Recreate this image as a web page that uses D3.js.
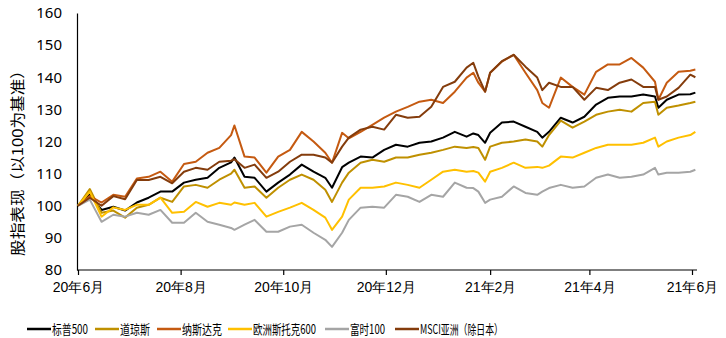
<!DOCTYPE html>
<html><head><meta charset="utf-8">
<script src="https://cdn.jsdelivr.net/npm/d3@7"></script>
<style>body{margin:0;background:#fff;}svg{display:block;font-family:"Noto Sans CJK SC","Noto Sans",sans-serif;}</style>
</head><body><svg id="c" width="726" height="338"></svg>
<script>
const dates = ["2020-06-01","2020-06-08","2020-06-15","2020-06-22","2020-06-29","2020-07-06","2020-07-13","2020-07-20","2020-07-27","2020-08-03","2020-08-10","2020-08-17","2020-08-24","2020-08-31","2020-09-02","2020-09-08","2020-09-14","2020-09-21","2020-09-28","2020-10-05","2020-10-12","2020-10-19","2020-10-26","2020-10-30","2020-11-05","2020-11-09","2020-11-16","2020-11-23","2020-11-30","2020-12-07","2020-12-14","2020-12-21","2020-12-28","2021-01-04","2021-01-11","2021-01-18","2021-01-22","2021-01-25","2021-01-29","2021-02-01","2021-02-08","2021-02-15","2021-02-22","2021-03-01","2021-03-04","2021-03-08","2021-03-15","2021-03-22","2021-03-29","2021-04-05","2021-04-12","2021-04-19","2021-04-26","2021-05-03","2021-05-10","2021-05-12","2021-05-17","2021-05-24","2021-05-31","2021-06-03"];

const seriesNames = ["标普500","道琼斯","纳斯达克","欧洲斯托克600","富时100","MSCI亚洲（除日本）"];

const sp500   = [100,103.5,98.7,99.7,98.5,101,102.5,104.4,104.4,107.2,108.1,108.7,111.8,113.5,115,109,108.7,104.4,107.2,109.7,112.8,110.6,108.7,105.6,112,113.4,115.3,115,117.4,119,118.4,119.6,120,121.2,123,121.5,122.5,122,119.6,122.7,125.9,126.2,124.6,123,121.2,123,127.4,125.9,127.7,131.5,133.6,134,134,134.6,134,130.5,133,134.6,134.7,135.2];
const dow     = [100,105.2,97.8,98.5,96.3,99.4,100.3,102.5,101.2,106,106.5,105.6,108.1,110,111.2,105.6,106,102.5,105.6,108.1,109.7,108.1,105,101.2,107.2,110.3,113.4,114.3,113.7,115,115,115.9,116.5,117.4,118.4,118,118.3,118,114.3,118.4,119.6,120,120.6,120,118.4,122,126.5,124.3,126.2,128.3,129.3,129.9,129.3,132,132.4,128.3,130.5,131.2,132,132.4];
const nasdaq  = [100,103,101,103.4,102.8,108.5,109,110.6,107.5,113,113.7,116.5,118,122,125,115.3,115,110.3,115.3,117.4,123,120,116.5,113.4,122.7,121,123,125.2,127.4,129.3,130.8,132.4,133,132,135.5,139.9,141.4,138.3,135.5,141.4,144.9,147,141.4,136,132,130.5,139.9,137,134.6,141.7,144,144,146,143,138.6,133,138.3,141.7,142,142.4];
const stoxx   = [100,104.4,96.6,99.5,98.7,100.3,100.3,102.5,97.8,98.1,101.2,99.7,100.9,100.3,101,100.3,100.9,96.6,98.1,99.4,100.9,98.7,96.3,92.5,96.6,101.9,105.6,105.6,106,107.2,106.5,105.6,108.1,110.6,111.2,110.6,110.8,110.3,107.5,110.6,111.8,113.4,111.8,112.1,111.8,112.5,115.3,115,116.5,118,119,119,119,119.6,121.2,118.4,120,121.2,122,123];
const ftse    = [100,101.9,95,97.2,96.6,97.8,97.2,98.7,94.7,94.7,97.8,95,94.1,93.1,92.5,94.1,95.6,91.9,91.9,93.5,94.1,91.6,89.4,87.2,91.6,95.6,99.4,99.7,99.4,103.4,102.8,101.2,103.4,102.8,107.2,105.6,105.5,104.4,100.9,101.9,102.8,106,104,103.4,104.4,105.5,106.5,105.6,106,108.7,109.7,108.7,109,109.7,111.8,109.7,110.3,110.3,110.6,111.2];
const msciAsia= [100,102.5,100,103,102,108,108,109,107,110.6,111.8,111.2,113.7,114,114.5,111.8,112.8,108.7,110.6,113.7,115.9,115.9,115,113.4,118.4,121.2,123.7,124.6,123.7,128.3,127.4,127.7,130.8,137,138.6,143,144.5,140.2,135.5,141.4,145,147,143.3,139.9,136,138.3,137,137,133,136.7,136,138.3,139.3,137,137,133,134,136.7,140.8,140];

const colors = ["#000000","#BF9000","#C55A11","#FFC000","#A5A5A5","#843C0C"];
const yTicks = [80,90,100,110,120,130,140,150,160];
const xTicks = ["2020-06-01","2020-08-01","2020-10-01","2020-12-01","2021-02-01","2021-04-01","2021-06-01"];
const xTickLabels = ["20年6月","20年8月","20年10月","20年12月","21年2月","21年4月","21年6月"];
const yTitle = "股指表现（以100为基准）";

const parse = d3.utcParse("%Y-%m-%d");
const svg = d3.select("#c");
const x = d3.scaleUtc().domain([parse("2020-06-01"), parse("2021-06-01")]).range([78, 692]);
const y = d3.scaleLinear().domain([80,160]).range([270,13]);

// axes
const yAxis = svg.append("g").attr("transform","translate(77,0)")
  .call(d3.axisLeft(y).tickValues(yTicks).tickSize(0).tickPadding(15));
yAxis.select(".domain").attr("stroke","#000").attr("stroke-width",1.2);
yAxis.selectAll("text").attr("font-size",15).attr("fill","#000").attr("font-family","'Noto Sans','DejaVu Sans',sans-serif");

const xAxis = svg.append("g").attr("transform","translate(0,270)")
  .call(d3.axisBottom(x).tickValues(xTicks.map(parse)).tickFormat((d,i)=>xTickLabels[i]).tickSize(5).tickPadding(7).tickSizeOuter(0));
xAxis.select(".domain").attr("stroke","#000").attr("stroke-width",1.2).attr("d","M77,0H697");
xAxis.selectAll(".tick line").attr("stroke","#000").attr("stroke-width",1.2);
xAxis.selectAll("text").attr("font-size",14).attr("fill","#000");

svg.append("text").attr("transform","translate(23,159) rotate(-90)")
  .attr("text-anchor","middle").attr("font-size",15).attr("fill","#000")
  .attr("textLength",194).attr("lengthAdjust","spacingAndGlyphs").text(yTitle);

const allSeries = [sp500, dow, nasdaq, stoxx, ftse, msciAsia];
const line = d3.line().x(d=>x(d[0])).y(d=>y(d[1]));
allSeries.forEach((vals,i)=>{
  const pts = dates.map((d,j)=>[parse(d), vals[j]]);
  svg.append("path").attr("d", line(pts)).attr("fill","none")
    .attr("stroke", colors[i]).attr("stroke-width",2).attr("stroke-linejoin","round");
});

// legend
const legendX = [27,95,157,228,325,395];
const legendW = [36,30,40,63,35,83];
const lg = svg.append("g").attr("transform","translate(0,329)");
seriesNames.forEach((n,i)=>{
  lg.append("line").attr("x1",legendX[i]).attr("x2",legendX[i]+24).attr("y1",0).attr("y2",0)
    .attr("stroke",colors[i]).attr("stroke-width",2.5);
  lg.append("text").attr("x",legendX[i]+25).attr("y",0).attr("dy","0.36em")
    .attr("font-size",13).attr("fill","#000")
    .attr("textLength",legendW[i]).attr("lengthAdjust","spacingAndGlyphs").text(n);
});
</script></body></html>
